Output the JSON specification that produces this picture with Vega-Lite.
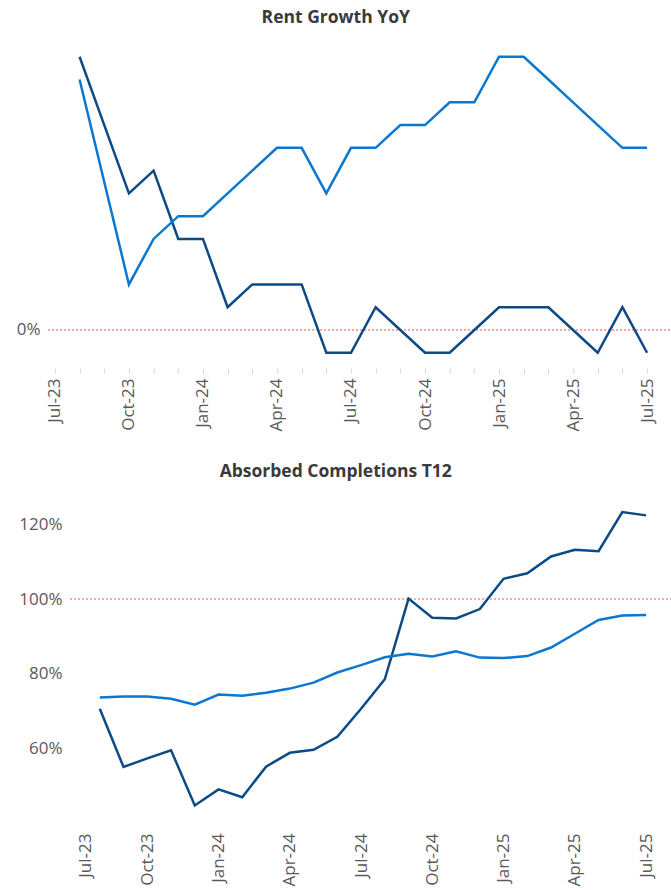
{
  "$schema": "https://vega.github.io/schema/vega-lite/v6.json",
  "padding": {"top": 8, "left": 0, "right": 0, "bottom": 0},
  "background": "white",
  "config": {
    "view": {"stroke": null},
    "font": "Open Sans",
    "concat": {"spacing": 30},
    "title": {"font": "Open Sans", "fontSize": 17.5, "fontWeight": "bold", "color": "#3a3a3a", "frame": "bounds", "anchor": "middle"}
  },
  "datasets": {
    "rent": [
      {"month": "Aug-23", "i": 1, "series": "Dark", "value": 0.12},
      {"month": "Sep-23", "i": 2, "series": "Dark", "value": 0.09},
      {"month": "Oct-23", "i": 3, "series": "Dark", "value": 0.06},
      {"month": "Nov-23", "i": 4, "series": "Dark", "value": 0.07},
      {"month": "Dec-23", "i": 5, "series": "Dark", "value": 0.04},
      {"month": "Jan-24", "i": 6, "series": "Dark", "value": 0.04},
      {"month": "Feb-24", "i": 7, "series": "Dark", "value": 0.01},
      {"month": "Mar-24", "i": 8, "series": "Dark", "value": 0.02},
      {"month": "Apr-24", "i": 9, "series": "Dark", "value": 0.02},
      {"month": "May-24", "i": 10, "series": "Dark", "value": 0.02},
      {"month": "Jun-24", "i": 11, "series": "Dark", "value": -0.01},
      {"month": "Jul-24", "i": 12, "series": "Dark", "value": -0.01},
      {"month": "Aug-24", "i": 13, "series": "Dark", "value": 0.01},
      {"month": "Sep-24", "i": 14, "series": "Dark", "value": 0.0},
      {"month": "Oct-24", "i": 15, "series": "Dark", "value": -0.01},
      {"month": "Nov-24", "i": 16, "series": "Dark", "value": -0.01},
      {"month": "Dec-24", "i": 17, "series": "Dark", "value": 0.0},
      {"month": "Jan-25", "i": 18, "series": "Dark", "value": 0.01},
      {"month": "Feb-25", "i": 19, "series": "Dark", "value": 0.01},
      {"month": "Mar-25", "i": 20, "series": "Dark", "value": 0.01},
      {"month": "Apr-25", "i": 21, "series": "Dark", "value": 0.0},
      {"month": "May-25", "i": 22, "series": "Dark", "value": -0.01},
      {"month": "Jun-25", "i": 23, "series": "Dark", "value": 0.01},
      {"month": "Jul-25", "i": 24, "series": "Dark", "value": -0.01},
      {"month": "Aug-23", "i": 1, "series": "Light", "value": 0.11},
      {"month": "Sep-23", "i": 2, "series": "Light", "value": 0.065},
      {"month": "Oct-23", "i": 3, "series": "Light", "value": 0.02},
      {"month": "Nov-23", "i": 4, "series": "Light", "value": 0.04},
      {"month": "Dec-23", "i": 5, "series": "Light", "value": 0.05},
      {"month": "Jan-24", "i": 6, "series": "Light", "value": 0.05},
      {"month": "Feb-24", "i": 7, "series": "Light", "value": 0.06},
      {"month": "Mar-24", "i": 8, "series": "Light", "value": 0.07},
      {"month": "Apr-24", "i": 9, "series": "Light", "value": 0.08},
      {"month": "May-24", "i": 10, "series": "Light", "value": 0.08},
      {"month": "Jun-24", "i": 11, "series": "Light", "value": 0.06},
      {"month": "Jul-24", "i": 12, "series": "Light", "value": 0.08},
      {"month": "Aug-24", "i": 13, "series": "Light", "value": 0.08},
      {"month": "Sep-24", "i": 14, "series": "Light", "value": 0.09},
      {"month": "Oct-24", "i": 15, "series": "Light", "value": 0.09},
      {"month": "Nov-24", "i": 16, "series": "Light", "value": 0.10},
      {"month": "Dec-24", "i": 17, "series": "Light", "value": 0.10},
      {"month": "Jan-25", "i": 18, "series": "Light", "value": 0.12},
      {"month": "Feb-25", "i": 19, "series": "Light", "value": 0.12},
      {"month": "Mar-25", "i": 20, "series": "Light", "value": 0.11},
      {"month": "Apr-25", "i": 21, "series": "Light", "value": 0.10},
      {"month": "May-25", "i": 22, "series": "Light", "value": 0.09},
      {"month": "Jun-25", "i": 23, "series": "Light", "value": 0.08},
      {"month": "Jul-25", "i": 24, "series": "Light", "value": 0.08}
    ],
    "absorbed": [
      {"month": "Aug-23", "i": 1, "series": "Dark", "value": 0.706},
      {"month": "Sep-23", "i": 2, "series": "Dark", "value": 0.550},
      {"month": "Oct-23", "i": 3, "series": "Dark", "value": 0.573},
      {"month": "Nov-23", "i": 4, "series": "Dark", "value": 0.595},
      {"month": "Dec-23", "i": 5, "series": "Dark", "value": 0.447},
      {"month": "Jan-24", "i": 6, "series": "Dark", "value": 0.490},
      {"month": "Feb-24", "i": 7, "series": "Dark", "value": 0.469},
      {"month": "Mar-24", "i": 8, "series": "Dark", "value": 0.551},
      {"month": "Apr-24", "i": 9, "series": "Dark", "value": 0.588},
      {"month": "May-24", "i": 10, "series": "Dark", "value": 0.596},
      {"month": "Jun-24", "i": 11, "series": "Dark", "value": 0.631},
      {"month": "Jul-24", "i": 12, "series": "Dark", "value": 0.706},
      {"month": "Aug-24", "i": 13, "series": "Dark", "value": 0.785},
      {"month": "Sep-24", "i": 14, "series": "Dark", "value": 1.001},
      {"month": "Oct-24", "i": 15, "series": "Dark", "value": 0.950},
      {"month": "Nov-24", "i": 16, "series": "Dark", "value": 0.948},
      {"month": "Dec-24", "i": 17, "series": "Dark", "value": 0.973},
      {"month": "Jan-25", "i": 18, "series": "Dark", "value": 1.054},
      {"month": "Feb-25", "i": 19, "series": "Dark", "value": 1.069},
      {"month": "Mar-25", "i": 20, "series": "Dark", "value": 1.114},
      {"month": "Apr-25", "i": 21, "series": "Dark", "value": 1.132},
      {"month": "May-25", "i": 22, "series": "Dark", "value": 1.128},
      {"month": "Jun-25", "i": 23, "series": "Dark", "value": 1.233},
      {"month": "Jul-25", "i": 24, "series": "Dark", "value": 1.224},
      {"month": "Aug-23", "i": 1, "series": "Light", "value": 0.736},
      {"month": "Sep-23", "i": 2, "series": "Light", "value": 0.739},
      {"month": "Oct-23", "i": 3, "series": "Light", "value": 0.739},
      {"month": "Nov-23", "i": 4, "series": "Light", "value": 0.733},
      {"month": "Dec-23", "i": 5, "series": "Light", "value": 0.717},
      {"month": "Jan-24", "i": 6, "series": "Light", "value": 0.744},
      {"month": "Feb-24", "i": 7, "series": "Light", "value": 0.741},
      {"month": "Mar-24", "i": 8, "series": "Light", "value": 0.749},
      {"month": "Apr-24", "i": 9, "series": "Light", "value": 0.760},
      {"month": "May-24", "i": 10, "series": "Light", "value": 0.776},
      {"month": "Jun-24", "i": 11, "series": "Light", "value": 0.803},
      {"month": "Jul-24", "i": 12, "series": "Light", "value": 0.823},
      {"month": "Aug-24", "i": 13, "series": "Light", "value": 0.844},
      {"month": "Sep-24", "i": 14, "series": "Light", "value": 0.853},
      {"month": "Oct-24", "i": 15, "series": "Light", "value": 0.846},
      {"month": "Nov-24", "i": 16, "series": "Light", "value": 0.860},
      {"month": "Dec-24", "i": 17, "series": "Light", "value": 0.843},
      {"month": "Jan-25", "i": 18, "series": "Light", "value": 0.842},
      {"month": "Feb-25", "i": 19, "series": "Light", "value": 0.847},
      {"month": "Mar-25", "i": 20, "series": "Light", "value": 0.870},
      {"month": "Apr-25", "i": 21, "series": "Light", "value": 0.907},
      {"month": "May-25", "i": 22, "series": "Light", "value": 0.944},
      {"month": "Jun-25", "i": 23, "series": "Light", "value": 0.956},
      {"month": "Jul-25", "i": 24, "series": "Light", "value": 0.957}
    ]
  },
  "vconcat": [
    {
      "title": {"text": "Rent Growth YoY", "offset": 8},
      "width": 623,
      "height": 334,
      "encoding": {
        "x": {
          "field": "i", "type": "quantitative",
          "scale": {"domain": [-0.28, 24.97], "nice": false, "zero": false},
          "axis": {
            "values": [0,1,2,3,4,5,6,7,8,9,10,11,12,13,14,15,16,17,18,19,20,21,22,23,24],
            "labelExpr": "datum.value % 3 === 0 ? ['Jul','Oct','Jan','Apr'][(datum.value/3)%4] + '-' + (23 + floor((datum.value+6)/12)) : ''",
            "labelAngle": -90, "labelFontSize": 17, "labelColor": "#595959",
            "domain": false, "ticks": true, "tickColor": "#d9d9d9", "tickSize": 5,
            "grid": false, "labelPadding": 5, "title": null,
            "labelFlush": false, "labelOverlap": false, "labelBound": false
          }
        },
        "y": {
          "field": "value", "type": "quantitative",
          "scale": {"domain": [-0.0167, 0.13], "nice": false, "zero": false},
          "axis": {
            "values": [0], "format": ".0%", "labelFontSize": 17, "labelColor": "#595959",
            "domain": false, "ticks": false, "tickSize": 0, "grid": false, "title": null,
            "labelPadding": 8, "minExtent": 48, "maxExtent": 48
          }
        }
      },
      "layer": [
        {
          "data": {"values": [{"i": -0.28, "i2": 24.97, "value": 0}]},
          "mark": {"type": "rule", "color": "#e5534f", "strokeDash": [2, 2], "strokeWidth": 1},
          "encoding": {
            "x2": {"field": "i2"}
          }
        },
        {
          "data": {"name": "rent"},
          "mark": {"type": "line", "strokeWidth": 2.5},
          "encoding": {
            "color": {
              "field": "series", "type": "nominal",
              "scale": {"domain": ["Dark", "Light"], "range": ["#0b4a84", "#0a78d0"]},
              "legend": null
            }
          }
        }
      ]
    },
    {
      "title": {"text": "Absorbed Completions T12", "offset": 7},
      "width": 623,
      "height": 336,
      "encoding": {
        "x": {
          "field": "i", "type": "quantitative",
          "scale": {"domain": [-1.18, 25.05], "nice": false, "zero": false},
          "axis": {
            "values": [0,3,6,9,12,15,18,21,24],
            "labelExpr": "['Jul','Oct','Jan','Apr'][(datum.value/3)%4] + '-' + (23 + floor((datum.value+6)/12))",
            "labelAngle": -90, "labelFontSize": 17, "labelColor": "#595959",
            "labelOffset": {"condition": {"test": "datum.value === 0", "value": 9}, "value": 0},
            "domain": false, "ticks": false, "tickSize": 0,
            "grid": false, "labelPadding": 10, "title": null,
            "labelFlush": false, "labelOverlap": false, "labelBound": false
          }
        },
        "y": {
          "field": "value", "type": "quantitative",
          "scale": {"domain": [0.4, 1.3], "nice": false, "zero": false},
          "axis": {
            "values": [0.6, 0.8, 1.0, 1.2], "format": ".0%", "labelFontSize": 17, "labelColor": "#595959",
            "domain": false, "ticks": false, "tickSize": 0, "grid": false, "title": null,
            "labelPadding": -14, "minExtent": 48, "maxExtent": 48
          }
        }
      },
      "layer": [
        {
          "data": {"values": [{"i": -0.25, "i2": 25.05, "value": 1}]},
          "mark": {"type": "rule", "color": "#e5534f", "strokeDash": [2, 2], "strokeWidth": 1},
          "encoding": {
            "x2": {"field": "i2"}
          }
        },
        {
          "data": {"name": "absorbed"},
          "mark": {"type": "line", "strokeWidth": 2.5},
          "encoding": {
            "color": {
              "field": "series", "type": "nominal",
              "scale": {"domain": ["Dark", "Light"], "range": ["#0b4a84", "#0a78d0"]},
              "legend": null
            }
          }
        }
      ]
    }
  ],
  "resolve": {"scale": {"color": "independent"}}
}
